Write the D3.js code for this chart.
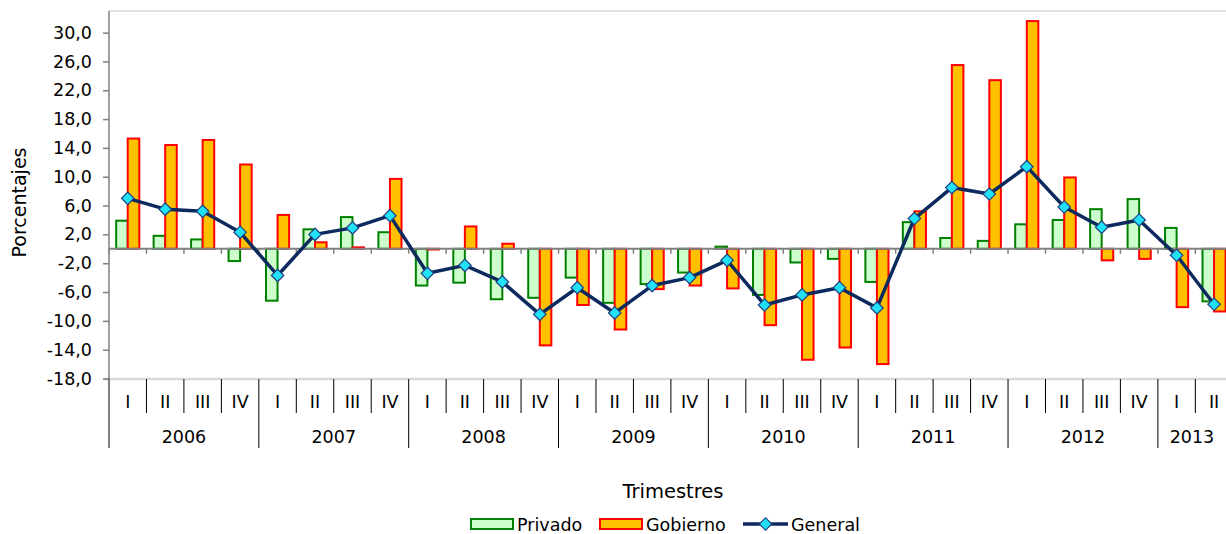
<!DOCTYPE html>
<html>
<head>
<meta charset="utf-8">
<script src="https://cdn.jsdelivr.net/npm/d3@7"></script>
<style>
  body { margin: 0; background: #fff; }
  svg { display: block; font-family: "DejaVu Sans", Verdana, sans-serif; }
</style>
</head>
<body>
<svg id="chart" width="1226" height="534"></svg>
<script>
// data
const years = ['2006', '2007', '2008', '2009', '2010', '2011', '2012', '2013'];
const quarters = ['I', 'II', 'III', 'IV'];
const yTicks = [-18, -14, -10, -6, -2, 2, 6, 10, 14, 18, 22, 26, 30];

const privado = [3.9, 1.8, 1.3, -1.7, -7.2, 2.7, 4.4, 2.3, -5.1, -4.7, -7.0, -6.8,
  -4.0, -7.5, -4.9, -3.3, 0.3, -6.4, -1.9, -1.4, -4.6, 3.7, 1.5, 1.1,
  3.4, 4.0, 5.5, 6.9, 2.9, -7.3];
const gobierno = [15.3, 14.4, 15.1, 11.7, 4.7, 0.9, 0.2, 9.7, -0.1, 3.1, 0.7, -13.4,
  -7.8, -11.2, -5.6, -5.1, -5.5, -10.6, -15.4, -13.7, -16.0, 5.2, 25.5, 23.4,
  31.6, 9.9, -1.6, -1.4, -8.1, -8.7];
const general = [7.0, 5.5, 5.2, 2.3, -3.7, 2.0, 2.9, 4.6, -3.4, -2.3, -4.6, -9.1,
  -5.4, -8.9, -5.1, -4.0, -1.6, -7.8, -6.4, -5.4, -8.2, 4.2, 8.5, 7.6,
  11.4, 5.8, 3.0, 4.0, -0.9, -7.7];

const series = [
  { name: 'Privado', values: privado, fill: '#ccffcc', stroke: '#008000' },
  { name: 'Gobierno', values: gobierno, fill: '#ffc000', stroke: '#ff0000' }
];

// category list: 2006 I ... 2013 II
const periods = [];
years.forEach(y => quarters.forEach(q => periods.push({ year: y, q: q })));
periods.length = privado.length;
const keys = periods.map(p => p.year + '-' + p.q);

const svg = d3.select('#chart');
const plotLeft = 109, plotRight = 1232.8, plotTop = 11, plotBottom = 378.5;
const fs = 17.5;

const x = d3.scaleBand().domain(keys).range([plotLeft, plotRight]);
const xSub = d3.scaleBand().domain(series.map(s => s.name))
  .range([0, x.bandwidth()]).paddingInner(0).paddingOuter(0.62);
const y = d3.scaleLinear().domain([-18, 33]).range([plotBottom, plotTop]);

// plot frame lines
svg.append('line').attr('x1', plotLeft).attr('x2', 1226).attr('y1', plotTop).attr('y2', plotTop)
  .attr('stroke', '#d9d9d9').attr('stroke-width', 1.5);
svg.append('line').attr('x1', plotLeft - 6).attr('x2', 1226).attr('y1', 379).attr('y2', 379)
  .attr('stroke', '#d9d9d9').attr('stroke-width', 2.5);

// y axis
const yAxis = svg.append('g').attr('transform', `translate(${plotLeft},0)`)
  .call(d3.axisLeft(y).tickValues(yTicks).tickSize(6).tickPadding(11)
    .tickFormat(d => d3.format('.1f')(d).replace('.', ',').replace('−', '-')));
yAxis.select('.domain').attr('stroke', '#808080').attr('stroke-width', 1.5)
  .attr('d', `M0,${plotTop}V379`);
yAxis.selectAll('.tick line').attr('stroke', '#808080').attr('stroke-width', 1.5);
yAxis.selectAll('text').attr('font-size', fs).attr('fill', '#000')
  .attr('font-family', '"DejaVu Sans", Verdana, sans-serif');

// bars
const groups = svg.append('g').selectAll('g')
  .data(series).join('g')
  .attr('fill', s => s.fill).attr('stroke', s => s.stroke).attr('stroke-width', 2);
groups.selectAll('rect')
  .data(s => s.values.map((v, i) => ({ v, i, name: s.name })))
  .join('rect')
  .attr('x', d => x(keys[d.i]) + xSub(d.name))
  .attr('width', xSub.bandwidth())
  .attr('y', d => y(Math.max(0, d.v)))
  .attr('height', d => Math.abs(y(d.v) - y(0)));

// zero line with category ticks
svg.append('line').attr('x1', plotLeft).attr('x2', 1226).attr('y1', y(0)).attr('y2', y(0))
  .attr('stroke', '#808080').attr('stroke-width', 2);
svg.append('g').selectAll('line')
  .data(keys).join('line')
  .attr('x1', d => x(d)).attr('x2', d => x(d))
  .attr('y1', y(0)).attr('y2', y(0) + 5)
  .attr('stroke', '#808080').attr('stroke-width', 1.5);

// general line
const line = d3.line().x((d, i) => x(keys[i]) + x.bandwidth() / 2).y(d => y(d));
svg.append('path').datum(general).attr('d', line)
  .attr('fill', 'none').attr('stroke', '#0c2a5e').attr('stroke-width', 3.5)
  .attr('stroke-linejoin', 'round');
const diamond = d3.symbol().type(d3.symbolSquare).size(78);
svg.append('g').selectAll('path')
  .data(general).join('path')
  .attr('d', diamond)
  .attr('transform', (d, i) => `translate(${x(keys[i]) + x.bandwidth() / 2},${y(d)}) rotate(45)`)
  .attr('fill', '#22e0f5').attr('stroke', '#1f3f7f').attr('stroke-width', 1.2);

// category axis: quarter and year labels with dividers
const cat = svg.append('g');
cat.selectAll('line.q')
  .data(keys.filter((k, i) => i % 4 !== 0)).join('line')
  .attr('x1', d => x(d)).attr('x2', d => x(d)).attr('y1', 379).attr('y2', 413)
  .attr('stroke', '#000').attr('stroke-width', 1);
cat.selectAll('line.y')
  .data(keys.filter((k, i) => i % 4 === 0)).join('line')
  .attr('x1', d => x(d)).attr('x2', d => x(d)).attr('y1', 379).attr('y2', 448)
  .attr('stroke', '#000').attr('stroke-width', 1);
cat.selectAll('text.q')
  .data(periods).join('text')
  .attr('x', (d, i) => x(keys[i]) + x.bandwidth() / 2)
  .attr('y', 408).attr('text-anchor', 'middle').attr('font-size', fs)
  .text(d => d.q);
cat.selectAll('text.yr')
  .data(years).join('text')
  .attr('x', d => {
    const idx = keys.map((k, i) => i).filter(i => periods[i].year === d);
    const x0 = x(keys[idx[0]]);
    const x1 = Math.min(1226, x(keys[idx[idx.length - 1]]) + x.bandwidth());
    return (x0 + x1) / 2;
  })
  .attr('y', 443).attr('text-anchor', 'middle').attr('font-size', fs)
  .text(d => d);

// axis titles
svg.append('text').attr('x', 673).attr('y', 497.5).attr('text-anchor', 'middle')
  .attr('font-size', 19.5).text('Trimestres');
svg.append('text').attr('transform', 'translate(26,202.5) rotate(-90)')
  .attr('text-anchor', 'middle').attr('font-size', 19).text('Porcentajes');

// legend
const legend = svg.append('g').attr('font-size', fs);
const legendX = [471, 600];
series.forEach((s, i) => {
  legend.append('rect').attr('x', legendX[i]).attr('y', 519).attr('width', 42).attr('height', 10)
    .attr('fill', s.fill).attr('stroke', s.stroke).attr('stroke-width', 2);
  legend.append('text').attr('x', legendX[i] + 46).attr('y', 530.5).text(s.name);
});
legend.append('line').attr('x1', 743).attr('x2', 788).attr('y1', 524).attr('y2', 524)
  .attr('stroke', '#0c2a5e').attr('stroke-width', 3.5);
legend.append('path').attr('d', diamond)
  .attr('transform', 'translate(765.5,524) rotate(45)')
  .attr('fill', '#22e0f5').attr('stroke', '#1f3f7f').attr('stroke-width', 1.2);
legend.append('text').attr('x', 791).attr('y', 530.5).text('General');
</script>
</body>
</html>
